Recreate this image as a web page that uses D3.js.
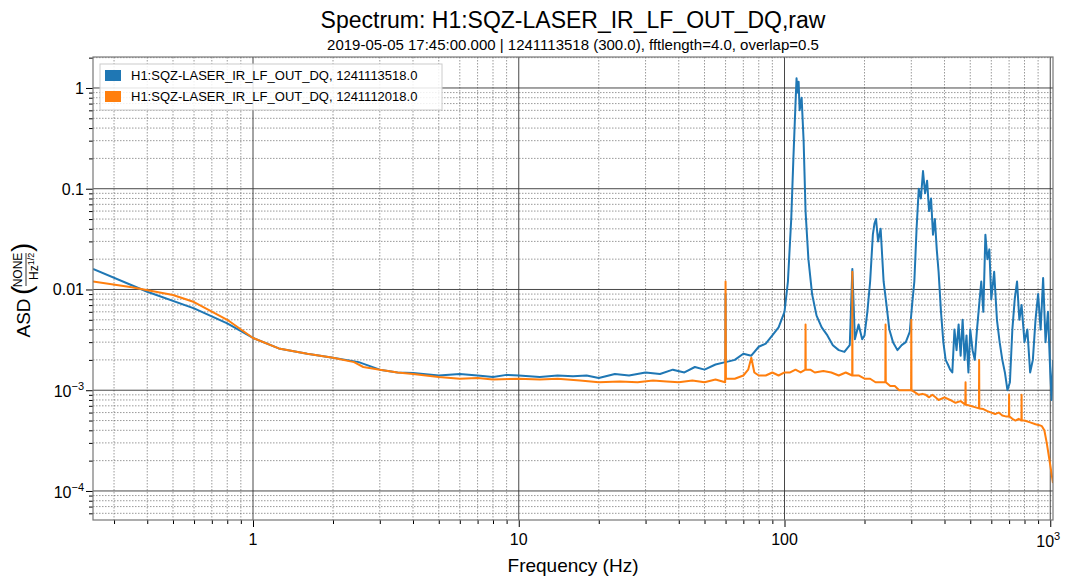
<!DOCTYPE html>
<html><head><meta charset="utf-8">
<script src="https://cdn.jsdelivr.net/npm/d3@7"></script>
<style>
body{margin:0;background:#fff;font-family:"Liberation Sans",Arial,sans-serif;}
.minor line{stroke:#555;stroke-dasharray:1.5,1.5;stroke-width:0.6;}
.major line{stroke:#333;stroke-width:0.9;}
</style></head><body>
<svg id="c" width="1073" height="585"></svg>
<script>
const blueF = [0.25,0.4,0.6,0.8,1,1.25,1.6,2,2.5,3,3.5,4,5,6,7,8,9,10,12,14,16,18,20,23,26,30,34,38,42,46,50,55,59.9,60,60.1,65,70,75,80,85,90,95,100,103,106,108,110,111,112,113,114,116,118,120,123,127,132,138,145,152,160,168,176,180,184,190,196,200,205,210,215,218,221,225,230,236,242,248,256,266,276,286,296,302,308,314,320,326,332,338,344,350,356,362,368,374,380,388,396,404,412,420,428,436,444,452,460,468,476,484,492,500,510,520,530,540,550,560,570,580,590,600,615,630,645,660,675,690,705,720,735,750,765,780,800,820,840,860,880,900,920,940,960,980,1000,1012,1024];
const blueV = [0.016,0.0095,0.0065,0.0046,0.0033,0.0026,0.0023,0.0021,0.0019,0.0016,0.0015,0.00148,0.0014,0.00145,0.0014,0.00135,0.00142,0.0014,0.00135,0.0014,0.00138,0.0014,0.00132,0.00145,0.0014,0.0015,0.00145,0.0016,0.0015,0.0017,0.0016,0.0018,0.0019,0.009,0.0019,0.002,0.0023,0.0022,0.0027,0.0029,0.0035,0.0042,0.006,0.012,0.05,0.2,0.7,1.25,0.9,1.15,0.6,0.8,0.3,0.06,0.02,0.009,0.0055,0.0042,0.0035,0.0028,0.0025,0.0024,0.0028,0.016,0.0032,0.0045,0.0032,0.0035,0.006,0.012,0.035,0.045,0.05,0.03,0.04,0.012,0.007,0.004,0.003,0.0025,0.0028,0.003,0.0038,0.007,0.012,0.04,0.1,0.08,0.15,0.09,0.12,0.06,0.08,0.035,0.05,0.025,0.015,0.006,0.003,0.002,0.0018,0.0016,0.0015,0.004,0.0025,0.0045,0.0022,0.005,0.002,0.0035,0.0015,0.004,0.0025,0.002,0.004,0.007,0.012,0.006,0.035,0.02,0.025,0.008,0.015,0.005,0.003,0.002,0.0015,0.001,0.0012,0.004,0.008,0.012,0.005,0.007,0.003,0.004,0.0015,0.002,0.005,0.009,0.004,0.013,0.003,0.006,0.0015,0.0008,0.002,0.003,0.0012,0.0016];
const orangeF = [0.25,0.35,0.5,0.6,0.8,1,1.25,1.6,2,2.4,2.6,3,3.5,4,5,6,7,8,10,12,14,17,20,24,28,32,36,40,45,50,55,59.8,60,60.2,65,70,73,75,77,80,85,90,95,100,105,110,115,119.8,120,120.2,125,130,140,150,160,170,179.8,180,180.2,190,200,210,220,230,239.5,240,240.5,250,260,270,280,290,299.5,300,300.5,310,320,330,340,350,360,370,380,400,420,440,460,479,480,481,500,520,539,540,541,560,580,600,620,640,660,680,699,700,701,720,740,760,779,780,781,800,840,880,910,930,950,970,1000,1024];
const orangeV = [0.012,0.0105,0.0088,0.0075,0.005,0.0033,0.0026,0.0023,0.0021,0.0019,0.0017,0.0016,0.0015,0.00145,0.00135,0.0013,0.00132,0.00128,0.0013,0.00128,0.0013,0.00125,0.0012,0.00122,0.0012,0.00125,0.00122,0.0012,0.00125,0.0012,0.00128,0.0012,0.012,0.0013,0.0013,0.0014,0.0016,0.0021,0.0015,0.0014,0.0014,0.0015,0.0014,0.0015,0.0015,0.0016,0.0015,0.0016,0.0045,0.0016,0.0016,0.0015,0.00155,0.0015,0.0014,0.0015,0.0014,0.015,0.0014,0.0014,0.0013,0.0013,0.0012,0.0012,0.0012,0.0045,0.0012,0.0011,0.0011,0.001,0.001,0.001,0.001,0.005,0.001,0.00095,0.0009,0.00092,0.0009,0.00085,0.0009,0.00085,0.0008,0.00085,0.0008,0.00075,0.00078,0.00072,0.0012,0.00072,0.0007,0.00068,0.00066,0.002,0.00066,0.00065,0.00062,0.0006,0.00058,0.0006,0.00056,0.00055,0.00055,0.0009,0.00055,0.00052,0.0005,0.00052,0.0005,0.0009,0.0005,0.0005,0.00048,0.00046,0.00045,0.00044,0.0004,0.0003,0.00018,0.00012,0.00008];
const blueLabel = "H1:SQZ-LASER_IR_LF_OUT_DQ, 1241113518.0";
const orangeLabel = "H1:SQZ-LASER_IR_LF_OUT_DQ, 1241112018.0";
const xMajor = [1,10,100,1000];
const yMajor = [1,0.1,0.01,0.001,0.0001];

const svg = d3.select("#c");
const L=93,R=1053,T=57,B=520;
const x = d3.scaleLog().domain([0.25,1024]).range([L,R]);
const y = d3.scaleLog().domain([5.15e-5,2.03]).range([B,T]);

const minorX=[], minorY=[];
for (let e=-1;e<=3;e++) for (let m=2;m<=9;m++){const v=m*Math.pow(10,e); if(v>0.25&&v<1024) minorX.push(v);}
for (let e=-5;e<=0;e++) for (let m=2;m<=9;m++){const v=m*Math.pow(10,e); if(v>5.15e-5&&v<2.03) minorY.push(v);}

const g = svg.append("g");
g.append("g").attr("class","minor").selectAll("line").data(minorX).join("line")
  .attr("x1",d=>x(d)).attr("x2",d=>x(d)).attr("y1",T).attr("y2",B);
g.append("g").attr("class","minor").selectAll("line").data(minorY).join("line")
  .attr("y1",d=>y(d)).attr("y2",d=>y(d)).attr("x1",L).attr("x2",R);
g.append("g").attr("class","major").selectAll("line").data(xMajor).join("line")
  .attr("x1",d=>x(d)).attr("x2",d=>x(d)).attr("y1",T).attr("y2",B);
g.append("g").attr("class","major").selectAll("line").data(yMajor).join("line")
  .attr("y1",d=>y(d)).attr("y2",d=>y(d)).attr("x1",L).attr("x2",R);

svg.append("defs").append("clipPath").attr("id","clip").append("rect")
  .attr("x",L).attr("y",T).attr("width",R-L).attr("height",B-T);
const line = d3.line().x(d=>x(d[0])).y(d=>y(d[1]));
const pg = svg.append("g").attr("clip-path","url(#clip)").attr("fill","none").attr("stroke-width",2).attr("stroke-linejoin","round");
pg.append("path").attr("stroke","#1f77b4").attr("d",line(d3.zip(blueF,blueV)));
pg.append("path").attr("stroke","#ff7f0e").attr("d",line(d3.zip(orangeF,orangeV)));

// axes
const ax = svg.append("g").attr("transform",`translate(0,${B})`)
  .call(d3.axisBottom(x).tickValues(minorX).tickSize(4).tickFormat(""));
ax.append("g").call(d3.axisBottom(x).tickValues(xMajor).tickSize(7).tickPadding(6).tickFormat(""));
const ay = svg.append("g").attr("transform",`translate(${L},0)`)
  .call(d3.axisLeft(y).tickValues(minorY).tickSize(4).tickFormat(""));
ay.append("g").call(d3.axisLeft(y).tickValues(yMajor).tickSize(7).tickFormat(""));
svg.selectAll(".domain").remove();
svg.append("rect").attr("x",L).attr("y",T).attr("width",R-L).attr("height",B-T)
  .attr("fill","none").attr("stroke","#777").attr("stroke-width",1.2);

const fs = 16;
const xl = svg.append("g").attr("font-size",fs).attr("text-anchor","middle");
[["1",1],["10",10],["100",100]].forEach(([t,v])=>xl.append("text").attr("x",x(v)).attr("y",B+25).text(t));
const t3 = xl.append("text").attr("x",x(1000)-2).attr("y",B+27);
t3.append("tspan").text("10"); t3.append("tspan").attr("dy",-7).attr("font-size",11).text("3");
const yl = svg.append("g").attr("font-size",fs).attr("text-anchor","end");
[["1",1],["0.1",0.1],["0.01",0.01]].forEach(([t,v])=>yl.append("text").attr("x",L-9).attr("y",y(v)+6).text(t));
[["−3",0.001],["−4",0.0001]].forEach(([t,v])=>{
  const tt=yl.append("text").attr("x",L-9).attr("y",y(v)+7);
  tt.append("tspan").text("10"); tt.append("tspan").attr("dy",-7).attr("font-size",11).text(t);
});

svg.append("text").attr("x",573).attr("y",28).attr("text-anchor","middle").attr("font-size",23)
  .text("Spectrum: H1:SQZ-LASER_IR_LF_OUT_DQ,raw");
svg.append("text").attr("x",573).attr("y",50).attr("text-anchor","middle").attr("font-size",15)
  .text("2019-05-05 17:45:00.000 | 1241113518 (300.0), fftlength=4.0, overlap=0.5");
svg.append("text").attr("x",573).attr("y",572).attr("text-anchor","middle").attr("font-size",19)
  .text("Frequency (Hz)");
const yt = svg.append("g").attr("transform","translate(30,290) rotate(-90)");
yt.append("text").attr("x",-28).attr("y",0).attr("text-anchor","middle").attr("font-size",19).text("ASD");
yt.append("text").attr("x",-5).attr("y",1).attr("font-size",28).attr("font-weight",200).text("(");
yt.append("text").attr("x",20).attr("y",-8).attr("text-anchor","middle").attr("font-size",12).text("NONE");
yt.append("line").attr("x1",4).attr("x2",37).attr("y1",-4).attr("y2",-4).attr("stroke","#000").attr("stroke-width",0.8);
const hz = yt.append("text").attr("x",10).attr("y",8).attr("font-size",12);
hz.append("tspan").text("Hz"); hz.append("tspan").attr("dy",-4).attr("font-size",9).text("1/2");
yt.append("text").attr("x",38).attr("y",1).attr("font-size",28).attr("font-weight",200).text(")");

// legend
const lg = svg.append("g").attr("transform","translate(100,64)");
lg.append("rect").attr("width",342).attr("height",46).attr("fill","#fff").attr("fill-opacity",0.85).attr("stroke","#ccc");
[[blueLabel,"#1f77b4"],[orangeLabel,"#ff7f0e"]].forEach(([t,c],i)=>{
  lg.append("rect").attr("x",5).attr("y",6+i*21).attr("width",16).attr("height",11).attr("fill",c);
  lg.append("text").attr("x",31).attr("y",16+i*21).attr("font-size",13).text(t);
});
</script></body></html>
